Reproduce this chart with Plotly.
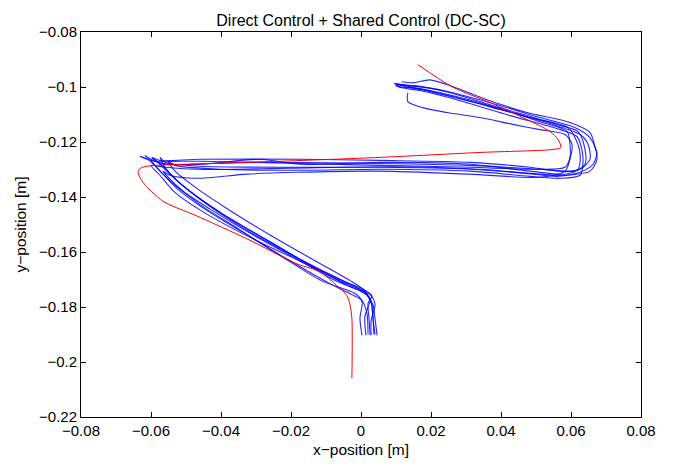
import plotly.graph_objects as go

# Reference (red) trajectory [m]
ref_x = [0.0163, 0.0260, 0.0369, 0.0474, 0.0540, 0.0563, 0.0571, 0.0549, 0.0340, 0.0054,
         -0.0231, -0.0423, -0.0611, -0.0631, -0.0637, -0.0623, -0.0566, -0.0469, -0.0326,
         -0.0183, -0.0117, -0.0069, -0.0040, -0.0031, -0.0026, -0.0026]
ref_y = [-0.0919, -0.0999, -0.1057, -0.1118, -0.1162, -0.1191, -0.1220, -0.1227, -0.1238, -0.1256,
         -0.1270, -0.1278, -0.1288, -0.1296, -0.1310, -0.1346, -0.1415, -0.1469, -0.1552,
         -0.1643, -0.1672, -0.1722, -0.1759, -0.1795, -0.1842, -0.2059]

run1_x = [0.0040, 0.0035, 0.0030, 0.0015, -0.0060, -0.0180, -0.0320, -0.0450, -0.0530, -0.0575,
          -0.0600, -0.0560, -0.0450, -0.0200, 0.0100, 0.0350, 0.0500, 0.0560, 0.0626, 0.0663,
          0.0674, 0.0669, 0.0654, 0.0597, 0.0474, 0.0360, 0.0263, 0.0197, 0.0149, 0.0117]
run1_y = [-0.1900, -0.1850, -0.1790, -0.1750, -0.1705, -0.1630, -0.1545, -0.1455, -0.1385, -0.1320,
          -0.1285, -0.1292, -0.1300, -0.1295, -0.1290, -0.1300, -0.1318, -0.1325, -0.1310, -0.1281,
          -0.1238, -0.1220, -0.1165, -0.1129, -0.1093, -0.1046, -0.0999, -0.0974, -0.0985, -0.0981]

run2_x = [0.0003, -0.0003, 0.0003, -0.0017, -0.0112, -0.0222, -0.0350, -0.0462, -0.0531, -0.0566,
          -0.0546, -0.0469, -0.0326, -0.0183, 0.0054, 0.0311, 0.0511, 0.0583, 0.0597, 0.0603,
          0.0583, 0.0511, 0.0434, 0.0340, 0.0246, 0.0177, 0.0134, 0.0134]
run2_y = [-0.1903, -0.1842, -0.1780, -0.1751, -0.1705, -0.1620, -0.1516, -0.1426, -0.1353, -0.1306,
          -0.1321, -0.1332, -0.1317, -0.1310, -0.1306, -0.1317, -0.1328, -0.1306, -0.1263, -0.1209,
          -0.1173, -0.1155, -0.1136, -0.1111, -0.1093, -0.1075, -0.1053, -0.1021]

run3_x = [0.0014, 0.0011, 0.0026, -0.0003, -0.0074, -0.0174, -0.0303, -0.0431, -0.0517, -0.0574,
          -0.0603, -0.0617, -0.0589, -0.0546, -0.0317, 0.0054, 0.0311, 0.0511, 0.0611, 0.0640,
          0.0640, 0.0620, 0.0569, 0.0397, 0.0254, 0.0154, 0.0106, 0.0094]
run3_y = [-0.1903, -0.1835, -0.1770, -0.1741, -0.1704, -0.1632, -0.1542, -0.1444, -0.1372, -0.1306,
          -0.1263, -0.1249, -0.1270, -0.1281, -0.1274, -0.1278, -0.1285, -0.1299, -0.1306, -0.1281,
          -0.1227, -0.1162, -0.1140, -0.1075, -0.1021, -0.0995, -0.0992, -0.0985]

run4_x = [0.0026, 0.0023, 0.0020, 0.0031, 0.0003, -0.0046, -0.0146, -0.0274, -0.0403, -0.0489,
          -0.0546, -0.0580, -0.0597, -0.0574, -0.0460, -0.0174, 0.0054, 0.0311, 0.0483, 0.0569,
          0.0626, 0.0654, 0.0649, 0.0626, 0.0540, 0.0397, 0.0254, 0.0169, 0.0111, 0.0097]
run4_y = [-0.1903, -0.1842, -0.1788, -0.1759, -0.1733, -0.1708, -0.1647, -0.1552, -0.1455, -0.1379,
          -0.1317, -0.1274, -0.1256, -0.1267, -0.1263, -0.1263, -0.1267, -0.1274, -0.1292, -0.1306,
          -0.1299, -0.1263, -0.1209, -0.1173, -0.1133, -0.1082, -0.1032, -0.1006, -0.0999, -0.0992]

run5_x = [0.0037, 0.0034, 0.0029, 0.0014, -0.0031, -0.0117, -0.0246, -0.0374, -0.0474, -0.0531,
          -0.0560, -0.0574, -0.0560, -0.0460, -0.0174, 0.0054, 0.0311, 0.0483, 0.0583, 0.0654,
          0.0674, 0.0669, 0.0654, 0.0611, 0.0511, 0.0369, 0.0226, 0.0140, 0.0103]
run5_y = [-0.1900, -0.1835, -0.1780, -0.1751, -0.1726, -0.1668, -0.1574, -0.1480, -0.1393, -0.1335,
          -0.1292, -0.1256, -0.1274, -0.1288, -0.1292, -0.1292, -0.1299, -0.1314, -0.1321, -0.1306,
          -0.1263, -0.1220, -0.1184, -0.1147, -0.1111, -0.1057, -0.1010, -0.0995, -0.0988]

run6_x = [0.0046, 0.0040, 0.0034, 0.0020, 0.0011, -0.0031, -0.0131, -0.0260, -0.0389, -0.0474,
          -0.0531, -0.0551, -0.0531, -0.0403, -0.0174, 0.0054, 0.0311, 0.0483, 0.0569, 0.0626,
          0.0634, 0.0631, 0.0617, 0.0569, 0.0426, 0.0283, 0.0169, 0.0117, 0.0100]
run6_y = [-0.1903, -0.1842, -0.1791, -0.1762, -0.1741, -0.1704, -0.1632, -0.1538, -0.1437, -0.1364,
          -0.1306, -0.1270, -0.1285, -0.1299, -0.1303, -0.1299, -0.1306, -0.1325, -0.1332, -0.1321,
          -0.1281, -0.1227, -0.1180, -0.1155, -0.1104, -0.1050, -0.1013, -0.1003, -0.0995]

run7_x = [0.0020, 0.0017, 0.0003, -0.0026, -0.0089, -0.0203, -0.0331, -0.0446, -0.0523, -0.0574,
          -0.0609, -0.0631, -0.0603, -0.0460, -0.0174, 0.0054, 0.0311, 0.0483, 0.0583, 0.0597,
          0.0597, 0.0589, 0.0511, 0.0369, 0.0226, 0.0126, 0.0100]
run7_y = [-0.1900, -0.1824, -0.1777, -0.1755, -0.1715, -0.1632, -0.1534, -0.1444, -0.1372, -0.1306,
          -0.1263, -0.1252, -0.1267, -0.1270, -0.1278, -0.1285, -0.1292, -0.1299, -0.1292, -0.1256,
          -0.1209, -0.1162, -0.1126, -0.1068, -0.1021, -0.0999, -0.0988]

run8_x = [0.0029, 0.0029, 0.0040, 0.0026, -0.0017, -0.0103, -0.0231, -0.0360, -0.0460, -0.0523,
          -0.0566, -0.0597, -0.0574, -0.0460, -0.0289, -0.0174, 0.0054, 0.0311, 0.0483, 0.0583,
          0.0620, 0.0626, 0.0614, 0.0591, 0.0483, 0.0340, 0.0197, 0.0126, 0.0097]
run8_y = [-0.1903, -0.1849, -0.1791, -0.1755, -0.1726, -0.1672, -0.1589, -0.1495, -0.1408, -0.1343,
          -0.1288, -0.1259, -0.1278, -0.1281, -0.1263, -0.1281, -0.1274, -0.1281, -0.1306, -0.1317,
          -0.1299, -0.1245, -0.1191, -0.1147, -0.1111, -0.1061, -0.1017, -0.0995, -0.0988]

runs = [(run1_x, run1_y), (run2_x, run2_y), (run3_x, run3_y), (run4_x, run4_y),
        (run5_x, run5_y), (run6_x, run6_y), (run7_x, run7_y), (run8_x, run8_y)]

x_ticks = [-0.08, -0.06, -0.04, -0.02, 0, 0.02, 0.04, 0.06, 0.08]
y_ticks = [-0.22, -0.2, -0.18, -0.16, -0.14, -0.12, -0.1, -0.08]

FONT = "Liberation Sans, Arial, Helvetica, sans-serif"

fig = go.Figure()
for rx, ry in runs:
    fig.add_trace(go.Scatter(x=rx, y=ry, mode="lines",
                             line=dict(color="rgba(0,0,255,0.85)", width=1.1, shape="spline", smoothing=0.8),
                             showlegend=False, hoverinfo="skip"))
fig.add_trace(go.Scatter(x=ref_x, y=ref_y, mode="lines",
                         line=dict(color="rgb(255,0,0)", width=1, shape="spline", smoothing=0.8),
                         showlegend=False, hoverinfo="skip"))

axis_common = dict(showgrid=False, zeroline=False, showline=True, linecolor="black", linewidth=1,
                   mirror="ticks", ticks="inside", ticklen=5, tickcolor="black", tickwidth=1,
                   tickfont=dict(family=FONT, size=15, color="black"))

fig.update_layout(
    width=673, height=468,
    margin=dict(l=81, r=32, t=32, b=49),
    paper_bgcolor="white", plot_bgcolor="white",
    title=dict(text="Direct Control + Shared Control (DC-SC)", xref="container",
               x=361 / 673, xanchor="center", y=0.957, yanchor="middle",
               font=dict(family=FONT, size=16, color="black")),
    xaxis=dict(range=[-0.08, 0.08], tickvals=x_ticks, **axis_common,
               title=dict(text="x\u2212position [m]", standoff=6,
                          font=dict(family=FONT, size=15.5, color="black"))),
    yaxis=dict(range=[-0.22, -0.08], tickvals=y_ticks, **axis_common,
               title=dict(text="y\u2212position [m]", standoff=8,
                          font=dict(family=FONT, size=15.5, color="black"))),
)

fig.write_html("out.html")
